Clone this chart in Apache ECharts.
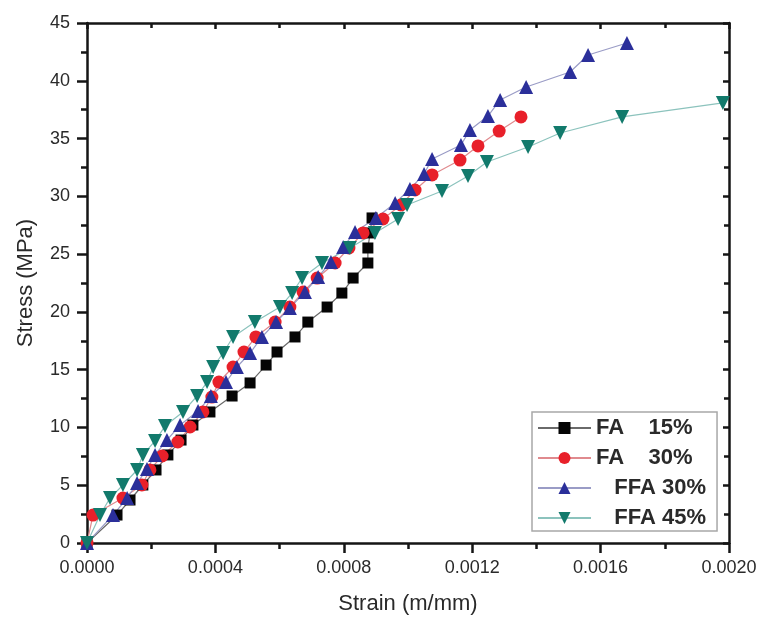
<!DOCTYPE html>
<html>
<head>
<meta charset="utf-8">
<script src="https://cdn.jsdelivr.net/npm/echarts@6/dist/echarts.min.js"></script>
<style>
  html, body { margin: 0; padding: 0; background: #fff; }
  #chart { width: 762px; height: 621px; }
</style>
</head>
<body>
<div id="chart"></div>
<script>
// values
const seriesNames = ['FA    15%', 'FA    30%', '   FFA 30%', '   FFA 45%'];

const fa15Strain = [0, 0.0000935, 0.000134, 0.000174, 0.000215, 0.000252, 0.000293, 0.000330, 0.000383, 0.000452, 0.000508, 0.000558, 0.000592, 0.000648, 0.000688, 0.000748, 0.000794, 0.000829, 0.000875, 0.000875, 0.000882, 0.000888];
const fa15Stress = [0, 2.42, 3.72, 5.02, 6.32, 7.62, 8.91, 10.21, 11.34, 12.72, 13.85, 15.40, 16.53, 17.83, 19.12, 20.42, 21.63, 22.93, 24.23, 25.53, 26.83, 28.13];

const fa30Strain = [0, 0.0000187, 0.000112, 0.000171, 0.000196, 0.000234, 0.000283, 0.000321, 0.000361, 0.000389, 0.000411, 0.000455, 0.000489, 0.000526, 0.000586, 0.000632, 0.000673, 0.000717, 0.000773, 0.000816, 0.000860, 0.000922, 0.000978, 0.001022, 0.001075, 0.001162, 0.001218, 0.001284, 0.001352];
const fa30Stress = [0, 2.42, 3.89, 5.02, 6.32, 7.53, 8.74, 10.04, 11.34, 12.63, 13.93, 15.23, 16.53, 17.83, 19.12, 20.42, 21.72, 22.93, 24.23, 25.53, 26.83, 28.04, 29.25, 30.55, 31.85, 33.14, 34.36, 35.65, 36.87];

const ffa30Strain = [0, 0.000081, 0.000125, 0.000156, 0.000187, 0.000212, 0.000249, 0.000290, 0.000346, 0.000386, 0.000433, 0.000467, 0.000508, 0.000545, 0.000589, 0.000632, 0.000679, 0.000720, 0.000760, 0.000798, 0.000835, 0.000900, 0.000960, 0.001006, 0.001050, 0.001075, 0.001165, 0.001193, 0.001249, 0.001287, 0.001368, 0.001505, 0.001561, 0.001682];
const ffa30Stress = [0, 2.42, 3.89, 5.19, 6.40, 7.62, 8.91, 10.21, 11.42, 12.72, 13.93, 15.23, 16.44, 17.83, 19.12, 20.34, 21.72, 23.02, 24.32, 25.62, 26.91, 28.13, 29.42, 30.63, 31.93, 33.23, 34.44, 35.74, 36.95, 38.34, 39.46, 40.76, 42.23, 43.27];

const ffa45Strain = [0, 0.0000405, 0.0000717, 0.000112, 0.000156, 0.000174, 0.000212, 0.000243, 0.000299, 0.000343, 0.000374, 0.000393, 0.000424, 0.000455, 0.000523, 0.000601, 0.000639, 0.000670, 0.000732, 0.000819, 0.000897, 0.000969, 0.000997, 0.001106, 0.001187, 0.001246, 0.001374, 0.001474, 0.001667, 0.001981];
const ffa45Stress = [0, 2.42, 3.89, 5.02, 6.32, 7.62, 8.83, 10.12, 11.34, 12.72, 13.93, 15.23, 16.44, 17.83, 19.12, 20.42, 21.63, 22.93, 24.23, 25.53, 26.83, 28.04, 29.25, 30.46, 31.76, 32.97, 34.27, 35.48, 36.87, 38.08];

const pair = (xs, ys) => xs.map((x, i) => [x, ys[i]]);

const fontFamily = 'Liberation Sans, Arial, sans-serif';
const textColor = '#2a2a2a';
const axisColor = '#151515';

const myChart = echarts.init(document.getElementById('chart'));

const mkSeries = (name, data, symbol, size, color, lineColor, rotate) => ({
  name: name,
  type: 'line',
  data: data,
  symbol: symbol,
  symbolSize: size,
  symbolRotate: rotate || 0,
  showAllSymbol: true,
  animation: false,
  itemStyle: { color: color },
  lineStyle: { color: lineColor, width: 1.2 },
  emphasis: { disabled: true }
});

// main axis (bottom / left): labels, outward ticks
const mainAxis = (extra) => Object.assign({
  type: 'value',
  nameLocation: 'middle',
  nameGap: 50,
  nameTextStyle: { fontSize: 22, fontFamily: fontFamily, color: textColor },
  axisLine: { onZero: false, lineStyle: { color: axisColor, width: 2.5 } },
  axisTick: { inside: false, length: 10, lineStyle: { color: axisColor, width: 2.5 } },
  minorTick: { show: true, splitNumber: 2, length: 6, lineStyle: { color: axisColor, width: 2.5 } },
  splitLine: { show: false },
  axisLabel: { fontSize: 18, margin: 17, fontFamily: fontFamily, color: textColor }
}, extra);

// mirror axis (top / right): no labels, inward ticks
const mirrorAxis = (extra) => Object.assign({
  type: 'value',
  axisLine: { onZero: false, lineStyle: { color: axisColor, width: 2.5 } },
  axisTick: { inside: true, length: 6, lineStyle: { color: axisColor, width: 2.5 } },
  minorTick: { show: true, splitNumber: 2, length: 5, lineStyle: { color: axisColor, width: 2.5 } },
  splitLine: { show: false },
  axisLabel: { show: false }
}, extra);

myChart.setOption({
  backgroundColor: '#fff',
  animation: false,
  grid: { left: 87, right: 33, top: 23, bottom: 78 },
  legend: {
    orient: 'vertical',
    left: 532,
    top: 412,
    padding: [5, 11, 2, 5],
    itemWidth: 53,
    itemHeight: 15,
    itemGap: 8,
    borderColor: '#a8a8a8',
    borderWidth: 1.5,
    selectedMode: false,
    textStyle: { fontSize: 22, lineHeight: 22, fontWeight: 'bold', color: textColor, fontFamily: fontFamily },
    data: seriesNames
  },
  xAxis: [
    mainAxis({
      min: 0, max: 0.002, interval: 0.0004,
      name: 'Strain (m/mm)',
      axisLabel: { fontSize: 18, margin: 16, fontFamily: fontFamily, color: textColor, formatter: v => v.toFixed(4) }
    }),
    mirrorAxis({ position: 'top', min: 0, max: 0.002, interval: 0.0004 })
  ],
  yAxis: [
    mainAxis({ min: 0, max: 45, interval: 5, name: 'Stress (MPa)' }),
    mirrorAxis({ position: 'right', min: 0, max: 45, interval: 5 })
  ],
  series: [
    mkSeries(seriesNames[0], pair(fa15Strain, fa15Stress), 'rect', 11, '#050505', '#6a6a6a'),
    mkSeries(seriesNames[1], pair(fa30Strain, fa30Stress), 'circle', 13, '#e8202a', '#e08a8e'),
    mkSeries(seriesNames[2], pair(ffa30Strain, ffa30Stress), 'triangle', 14, '#2b2f9a', '#9a9cc6'),
    mkSeries(seriesNames[3], pair(ffa45Strain, ffa45Stress), 'triangle', 14, '#127a6c', '#8cc3bd', 180)
  ]
});

window.addEventListener('resize', () => { myChart.resize(); });
</script>
</body>
</html>
